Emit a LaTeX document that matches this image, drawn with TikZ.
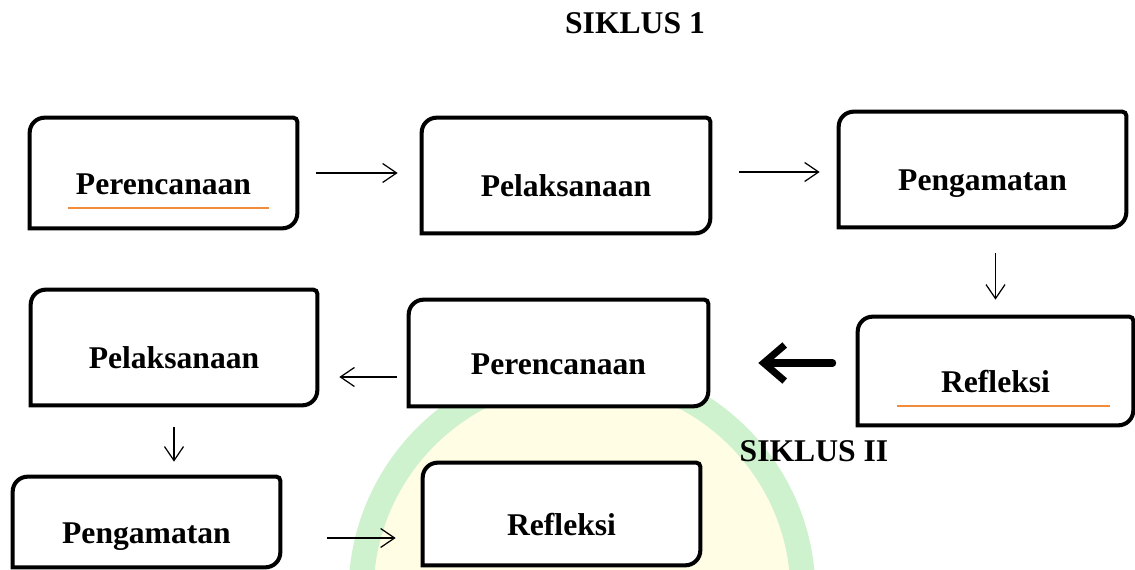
\documentclass[tikz,border=0pt]{standalone}
\usepackage{fontspec}
\setmainfont{Liberation Serif}
\usetikzlibrary{arrows.meta,backgrounds}
\definecolor{wmgreen}{RGB}{206,241,206}
\definecolor{wmyellow}{RGB}{255,253,228}
\definecolor{lineorange}{RGB}{240,140,60}
\tikzset{
  stagenode/.style = {align=center, inner sep=0pt, text centered,
    font=\bfseries\fontsize{18}{22}\selectfont,
    text height=0.9cm, text depth=0.04cm},
  titlenode/.style = {font=\bfseries\fontsize{18}{22}\selectfont},
  frameline/.style = {line width=2.3pt, fill=white},
  markline/.style = {lineorange, line width=1.2pt},
  flow/.style = {-{Straight Barb[length=0.28cm,width=0.38cm]}, line width=0.7pt},
  backflow/.style = {-{Straight Barb[length=0.42cm,width=0.72cm]},
    line width=4pt, line cap=round},
}

\begin{document}
\begin{tikzpicture}[x=0.02cm, y=-0.02cm]
  \useasboundingbox (0,0) rectangle (1135,570);

  % siklus 1
  \node [titlenode] (title1) at (635,23) {SIKLUS 1};
  \node [stagenode, minimum width=5.34cm, minimum height=2.2cm] (plan1) at (163.5,173) {Perencanaan};
  \node [stagenode, minimum width=5.76cm, minimum height=2.3cm] (act1) at (566,175.5) {Pelaksanaan};
  \node [stagenode, minimum width=5.74cm, minimum height=2.3cm] (obs1) at (982.5,169.5) {Pengamatan};
  \node [stagenode, minimum width=5.5cm, minimum height=2.16cm] (refl1) at (995.5,371) {Refleksi};

  % siklus 2
  \node [titlenode] (title2) at (814,451) {SIKLUS II};
  \node [stagenode, minimum width=5.98cm, minimum height=2.12cm] (plan2) at (558.5,353) {Perencanaan};
  \node [stagenode, minimum width=5.72cm, minimum height=2.3cm] (act2) at (174,347.5) {Pelaksanaan};
  \node [stagenode, minimum width=5.34cm, minimum height=1.8cm] (obs2) at (146.5,522) {Pengamatan};
  \node [stagenode, minimum width=5.54cm, minimum height=2.04cm] (refl2) at (561.5,514) {Refleksi};

  \draw [markline] (68,208) -- (269,208);
  \draw [markline] (897,406) -- (1110,406);

  % arrows
  \draw [flow, shorten <=0.38cm, shorten >=0.48cm] (plan1.east) -- (plan1.east -| act1.west);
  \draw [flow, shorten <=0.58cm, shorten >=0.38cm] ([yshift=0.07cm]act1.east) -- ([yshift=0.07cm]act1.east -| obs1.west);
  \draw [flow, shorten <=0.52cm, shorten >=0.34cm] (refl1.north |- obs1.south) -- (refl1.north);
  \draw [backflow, shorten <=0.5cm, shorten >=1.0cm] ([yshift=0.16cm]refl1.west) -- ([yshift=0.16cm]refl1.west -| plan2.east);
  \draw [flow, shorten <=0.24cm, shorten >=0.44cm] ([yshift=-0.48cm]plan2.west) -- ([yshift=-0.48cm]plan2.west -| act2.east);
  \draw [flow, shorten <=0.44cm, shorten >=0.3cm] (act2.south) -- (act2.south |- obs2.north);
  \draw [flow, shorten <=0.94cm, shorten >=0.54cm] ([yshift=-0.32cm]obs2.east) -- ([yshift=-0.32cm]obs2.east -| refl2.west);

  \begin{scope}[on background layer]
    % watermark
    \fill [wmyellow] (582,593) circle [radius=222];
    \draw [wmgreen, line width=0.5cm] (582,593) circle [radius=221];
    \foreach \b in {plan1,act1,obs1,refl1,plan2,act2,obs2,refl2}
      \draw [frameline] (\b.south west) [rounded corners=0.3cm] -- (\b.north west)
        [rounded corners=0.08cm] -- (\b.north east)
        [rounded corners=0.3cm] -- (\b.south east) [sharp corners] -- cycle;
  \end{scope}
\end{tikzpicture}
\end{document}
